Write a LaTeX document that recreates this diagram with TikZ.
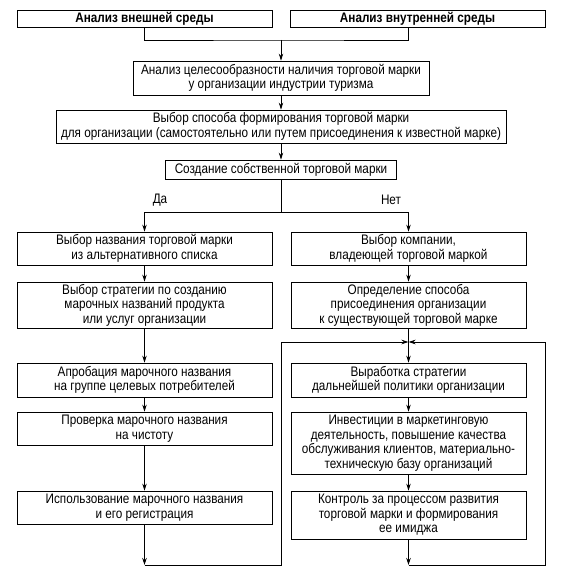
\documentclass[tikz,border=0pt]{standalone}
\usepackage{fontspec}
\setmainfont{Liberation Sans}[FakeStretch=0.85]
\usetikzlibrary{arrows.meta}

\begin{document}
\begin{tikzpicture}
[x=1pt,y=-1pt,
  arrowDecorate/.style={-{Stealth[length=7pt,width=4.5pt]},line width=0.8pt},%
  lineDecorate/.style={line width=0.8pt},%
  nodeDecorate/.style={shape=rectangle,draw,line width=0.8pt,inner sep=0pt,align=center,font=\fontsize{13.8}{14.5}\selectfont}]
\useasboundingbox (0,0) rectangle (560,572);
%% upper boxes
\node (extern) at (144.5,18.5) [nodeDecorate,minimum width=255pt,minimum height=17pt,font=\fontsize{13.8}{14.5}\selectfont\bfseries] {Анализ внешней среды};
\node (intern) at (417.5,18.5) [nodeDecorate,minimum width=255pt,minimum height=17pt,font=\fontsize{13.8}{14.5}\selectfont\bfseries] {Анализ внутренней среды};
\node (analysis) at (281,78) [nodeDecorate,minimum width=296pt,minimum height=34pt] {Анализ целесообразности наличия торговой марки\\у организации индустрии туризма};
\node (method) at (281,126.5) [nodeDecorate,minimum width=450pt,minimum height=33pt] {Выбор способа формирования торговой марки\\для организации (самостоятельно или путем присоединения к известной марке)};
\node (own) at (281,169.5) [nodeDecorate,minimum width=231pt,minimum height=19pt] {Создание собственной торговой марки};
\node (da) at (160,200) [font=\fontsize{13.8}{14.5}\selectfont] {Да};
\node (net) at (391,200) [font=\fontsize{13.8}{14.5}\selectfont] {Нет};
%% left column
\foreach \nodename/\y/\h/\txt in {
  yes1/248.5/33/{Выбор названия торговой марки\\из альтернативного списка},
  yes2/305/46/{Выбор стратегии по созданию\\марочных названий продукта\\или услуг организации},
  yes3/380/34/{Апробация марочного названия\\на группе целевых потребителей},
  yes4/428.5/33/{Проверка марочного названия\\на чистоту},
  yes5/507.5/33/{Использование марочного названия\\и его регистрация}}
{
  \node (\nodename) at (144.5,\y) [nodeDecorate,minimum width=255pt,minimum height=\h pt] {\txt};
}
%% right column
\foreach \nodename/\y/\h/\txt in {
  no1/248.5/33/{Выбор компании,\\владеющей торговой маркой},
  no2/305/46/{Определение способа\\присоединения организации\\к существующей торговой марке},
  no3/380/34/{Выработка стратегии\\дальнейшей политики организации},
  no4/443/62/{Инвестиции в маркетинговую\\деятельность, повышение качества\\обслуживания клиентов, материально-\\техническую базу организаций},
  no5/515/48/{Контроль за процессом развития\\торговой марки и формирования\\ее имиджа}}
{
  \node (\nodename) at (408.5,\y) [nodeDecorate,minimum width=235pt,minimum height=\h pt] {\txt};
}
%% helper points
\coordinate (topmid) at (281,40);
\coordinate (fork) at (281,212);
\coordinate (loopTL) at (281,342);
\coordinate (loopTR) at (545,342);
\coordinate (loopBL) at (281,565);
\coordinate (loopBR) at (545,565);
%% edges or lines
\draw[lineDecorate] (extern.south) |- (topmid) -| (intern.south -| no1);
\draw[arrowDecorate] (topmid) -- (analysis);
\path
\foreach \startnode/\endnode in {analysis/method, method/own,
  yes1/yes2, yes2/yes3, yes3/yes4, yes4/yes5,
  no1/no2, no2/no3, no3/no4, no4/no5}
{
  (\startnode) edge[arrowDecorate] (\endnode)
};
\draw[lineDecorate] (own) -- (fork);
\draw[arrowDecorate] (fork) -| (yes1);
\draw[arrowDecorate] (fork) -| (no1);
%% feedback loop
\draw[arrowDecorate] (yes5) -- (yes5 |- loopBL);
\draw[arrowDecorate] (yes5 |- loopBL) -- (loopBL) -- (loopTL) -- (no2 |- loopTL);
\draw[arrowDecorate] (no5) -- (no5 |- loopBR);
\draw[arrowDecorate] (no5 |- loopBR) -- (loopBR) -- (loopTR) -- (no2 |- loopTL);
\end{tikzpicture}
\end{document}
